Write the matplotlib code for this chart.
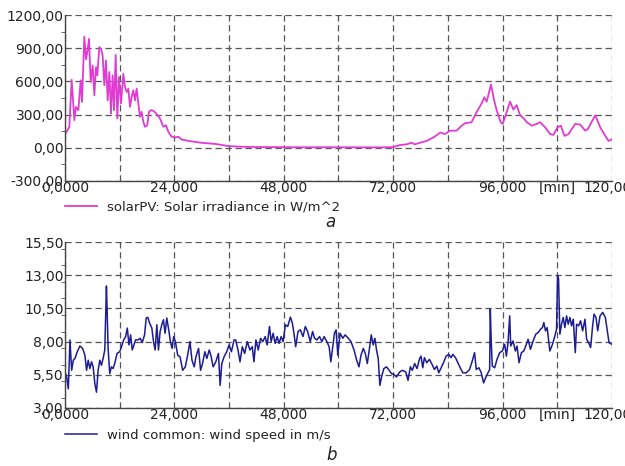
import matplotlib
matplotlib.use("Agg")
import matplotlib.pyplot as plt
from matplotlib.ticker import FixedLocator, MultipleLocator

# solar irradiance, W/m^2 over time in minutes
solar_t = [0, 950, 1460, 2050, 2410, 2930, 3440, 3730, 4240, 4610, 4900, 5270,
           5630, 6070, 6440, 6800, 7090, 7530, 7900, 8260, 8630, 9000, 9360,
           9730, 10090, 10460, 10750, 11120, 11480, 11850, 12290, 12800, 13170,
           13530, 13900, 14260, 14630, 14990, 15360, 15720, 16090, 16460, 16820,
           17190, 17550, 18060, 18430, 18800, 19380, 20110, 20840, 21580, 22160,
           22670, 23400, 24130, 24870, 25600, 27060, 30000, 33000, 36000, 40000,
           50000, 60000, 69070, 72000, 73470, 74930, 76030, 76770, 77860, 79330,
           80800, 81900, 82410, 83360, 84460, 85930, 87030, 87760, 89230, 90330,
           91430, 92010, 92520, 93480, 94140, 94720, 95600, 96040, 96920, 97660,
           98390, 99120, 99850, 100730, 101320, 102420, 103520, 104250, 105350,
           106450, 107180, 108060, 108800, 109600, 110480, 111950, 113050,
           114150, 114730, 116350, 117450, 118550, 119280, 120000]
solar_v = [120, 190, 615, 250, 370, 340, 610, 414, 1005, 800, 865, 985,
           595, 745, 475, 730, 655, 910, 895, 835, 565, 790, 430,
           685, 310, 655, 340, 840, 265, 640, 400, 670, 550,
           505, 535, 370, 460, 520, 430, 535, 400, 280, 325,
           235, 190, 205, 325, 340, 335, 305, 265, 190, 205,
           145, 100, 93, 100, 75, 63, 45, 35, 15, 8,
           5, 5, 4, 6, 25, 31, 46, 31, 46, 62,
           93, 124, 139, 124, 155, 155, 200, 222, 232, 324,
           402, 457, 417, 572, 433, 340, 232, 216, 324, 417,
           346, 386, 294, 263, 232, 200, 216, 232, 185,
           124, 117, 185, 200, 108, 124, 216, 210,
           155, 170, 294, 185, 108, 62, 77]

# wind speed, m/s over time in minutes
wind_t = [0, 360, 730, 1090, 1460, 1820, 2180, 2690, 3270, 3860, 4360, 4730,
          5090, 5460, 5820, 6180, 6550, 6910, 7270, 7640, 8000, 8360, 8730,
          9090, 9240, 9460, 9820, 10180, 10550, 10910, 11420, 12000, 12360,
          12870, 13310, 13670, 14040, 14400, 14760, 15130, 15490, 16000, 16510,
          16950, 17460, 17820, 18180, 18550, 19060, 19420, 19780, 20150, 20510,
          20870, 21240, 21600, 21960, 22330, 22760, 23130, 23490, 23860, 24220,
          24730, 25240, 25820, 26400, 26910, 27420, 27860, 28360, 28730, 29310,
          29750, 30180, 30690, 31130, 31640, 32000, 32510, 33090, 33670, 34040,
          34400, 34910, 35490, 36000, 36510, 37090, 37460, 37960, 38400, 38910,
          39420, 40000, 40580, 41090, 41460, 41890, 42400, 42910, 43420, 43930,
          44360, 44870, 45240, 45670, 46110, 46550, 46980, 47420, 47860, 48360,
          48870, 49460, 49890, 50180, 50620, 51130, 51640, 52220, 52730, 53240,
          53820, 54330, 54760, 55270, 55860, 56360, 56870, 57460, 57960, 58330,
          58760, 59130, 59490, 59860, 60360, 60950, 61460, 62180, 62760, 63420,
          64000, 64510, 64950, 65460, 65890, 66330, 66760, 67200, 67640, 68000,
          68360, 68730, 69090, 69460, 69960, 70550, 71130, 71640, 72150, 72730,
          73460, 74040, 74760, 75270, 75780, 76220, 76730, 77240, 77820, 78130,
          78500, 78860, 79370, 79960, 80550, 81060, 81580, 82020, 82530, 83050,
          83630, 84220, 84730, 85100, 85690, 86200, 86720, 87300, 88040, 88770,
          89360, 89870, 90240, 90830, 91340, 91850, 92290, 92810, 93180, 93320,
          93540, 93760, 94280, 94790, 95380, 95960, 96480, 96850, 97210, 97580,
          97800, 98310, 98830, 99190, 99630, 100150, 100660, 101100, 101620,
          102130, 102720, 103300, 103820, 104330, 104770, 105070, 105430,
          105800, 106390, 106970, 107490, 107860, 108080, 108300, 108590,
          108960, 109320, 109690, 110060, 110420, 110790, 111160, 111530,
          111970, 112260, 112700, 113140, 113580, 114100, 114460, 114900,
          115340, 115780, 116080, 116520, 116890, 117400, 117990, 118570,
          119010, 119380, 119970]
wind_v = [5.72, 5.34, 4.45, 8.13, 5.84, 6.60, 6.73, 7.24, 7.67, 7.49, 6.98, 5.84,
          6.60, 5.97, 6.48, 6.10, 4.83, 4.19, 5.84, 6.60, 6.22, 6.73, 7.37,
          12.19, 10.41, 7.49, 5.59, 6.10, 5.97, 6.35, 7.11, 7.24, 7.57,
          8.13, 8.38, 9.02, 7.75, 8.51, 7.37, 7.75, 8.13, 8.13, 8.25,
          7.92, 8.51, 9.78, 9.83, 9.40, 9.02, 8.00, 7.37, 9.27, 7.37,
          8.76, 9.27, 9.65, 8.63, 9.78, 8.89, 8.00, 7.49, 8.38, 8.00,
          6.98, 6.86, 5.84, 6.10, 6.98, 8.00, 6.60, 6.10, 6.86, 7.49,
          5.84, 6.35, 7.24, 6.73, 7.37, 6.98, 6.10, 6.48, 7.11, 4.70,
          6.35, 6.86, 7.24, 7.75, 7.24, 8.13, 8.13, 7.37, 6.48, 7.62,
          7.11, 8.00, 7.37, 7.62, 6.48, 8.13, 7.37, 8.25, 8.00, 8.38,
          7.75, 9.14, 8.00, 8.63, 7.87, 8.38, 7.87, 8.38, 8.00, 9.27,
          9.14, 9.85, 9.40, 8.76, 7.62, 8.76, 8.89, 8.38, 9.14, 8.76,
          8.00, 8.76, 8.25, 8.13, 8.38, 8.00, 8.38, 8.00, 7.62, 6.48,
          7.62, 8.63, 8.89, 6.98, 8.63, 8.25, 8.51, 8.25, 8.00, 7.37,
          6.60, 6.10, 6.98, 7.49, 7.11, 6.35, 7.37, 8.51, 7.75, 8.25,
          7.37, 6.73, 4.70, 5.34, 5.97, 6.10, 5.84, 5.59, 5.54, 5.34,
          5.72, 5.84, 5.72, 5.08, 6.10, 5.84, 6.35, 5.97, 6.73, 6.91,
          6.03, 6.79, 6.41, 6.66, 6.28, 5.90, 6.16, 5.65, 6.03, 6.41,
          6.91, 7.04, 6.79, 7.04, 6.79, 6.41, 6.03, 5.65, 5.65, 5.90,
          6.54, 7.17, 5.90, 6.03, 5.65, 4.89, 5.27, 5.65, 5.90, 10.45,
          7.92, 6.16, 6.03, 6.66, 7.17, 7.29, 7.80, 6.91, 7.92, 9.94,
          7.67, 8.05, 7.29, 7.67, 6.41, 7.17, 7.29, 7.67, 8.18,
          7.42, 8.05, 8.56, 8.68, 8.93, 9.06, 9.44, 8.81,
          9.06, 7.29, 7.80, 8.43, 8.93, 12.97, 12.72, 8.56,
          9.31, 9.82, 9.06, 9.94, 9.31, 9.82, 9.19, 9.69,
          7.17, 9.31, 9.19, 9.57, 8.81, 9.69, 8.18, 7.92,
          7.55, 9.19, 10.07, 9.82, 8.81, 9.94, 10.20, 9.82,
          8.81, 7.92, 7.80]

x_ticks = [0, 12000, 24000, 36000, 48000, 60000, 72000, 84000, 96000, 108000, 120000]
x_labels = ["0,0000", "", "24,000", "", "48,000", "", "72,000", "", "96,000",
            "[min]", "120,000"]
solar_ticks = [-300, 0, 300, 600, 900, 1200]
wind_ticks = [3.0, 5.5, 8.0, 10.5, 13.0, 15.5]

TEXT = "#222222"
GRID = "#555555"


def style(ax, yticks):
    ax.set_xlim(0, 120000)
    ax.set_ylim(yticks[0], yticks[-1])
    ax.xaxis.set_major_locator(FixedLocator(x_ticks))
    ax.set_xticklabels(x_labels)
    ax.set_yticks(yticks)
    ax.set_yticklabels([f"{v:.2f}".replace(".", ",") for v in yticks])
    ax.yaxis.set_minor_locator(MultipleLocator((yticks[1] - yticks[0]) / 2))
    ax.tick_params(axis="both", which="major", length=0, pad=1,
                   labelsize=10, labelcolor=TEXT)
    ax.tick_params(axis="y", which="minor", length=3, color=GRID)
    ax.tick_params(axis="x", pad=0)
    ax.grid(True, which="major", color=GRID, linestyle=(0, (5, 3)), linewidth=0.9)
    ax.spines["top"].set_visible(False)
    ax.spines["right"].set_visible(False)
    for s in ("left", "bottom"):
        ax.spines[s].set_color("#444444")
        ax.spines[s].set_linewidth(1.0)
    ax.set_axisbelow(True)


fig = plt.figure(figsize=(6.25, 4.66), dpi=100)
fig.patch.set_facecolor("white")

ax_top = fig.add_axes([0.104, 0.6116, 0.875, 0.356])
ax_bot = fig.add_axes([0.104, 0.1245, 0.875, 0.356])

ln1, = ax_top.plot(solar_t, solar_v, color="#e03cd2", linewidth=1.3)
ln2, = ax_bot.plot(wind_t, wind_v, color="#1c1c94", linewidth=1.1)
style(ax_top, solar_ticks)
style(ax_bot, wind_ticks)

fig.legend([ln1], ["solarPV: Solar irradiance in W/m^2"],
           loc="center left", bbox_to_anchor=(0.104, 1 - 207 / 466),
           frameon=False, fontsize=9.5, handlelength=2.4, handletextpad=0.8,
           borderpad=0, borderaxespad=0, labelcolor=TEXT)
fig.legend([ln2], ["wind common: wind speed in m/s"],
           loc="center left", bbox_to_anchor=(0.104, 1 - 435 / 466),
           frameon=False, fontsize=9.5, handlelength=2.4, handletextpad=0.8,
           borderpad=0, borderaxespad=0, labelcolor=TEXT)

fig.text(330 / 625, 1 - 222 / 466, "a", style="italic", fontsize=12,
         ha="center", va="center", color=TEXT)
fig.text(332 / 625, 1 - 455 / 466, "b", style="italic", fontsize=12,
         ha="center", va="center", color=TEXT)

fig.savefig("out.png", dpi=100, facecolor="white")
